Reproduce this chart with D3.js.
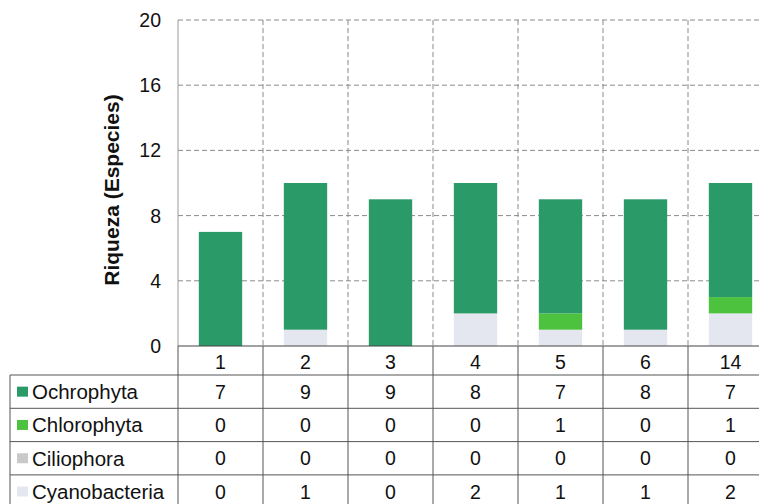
<!DOCTYPE html>
<html><head><meta charset="utf-8">
<script src="https://cdn.jsdelivr.net/npm/d3@7"></script>
<style>body{margin:0;background:#fff}svg{display:block;font-family:"Liberation Sans",Arial,sans-serif}</style>
</head><body><svg id="c" width="759" height="504"></svg>
<script>
const categories = ["1","2","3","4","5","6","14"];
const seriesNames = ["Ochrophyta","Chlorophyta","Ciliophora","Cyanobacteria"];
const ochrophyta = [7,9,9,8,7,8,7];
const chlorophyta = [0,0,0,0,1,0,1];
const ciliophora = [0,0,0,0,0,0,0];
const cyanobacteria = [0,1,0,2,1,1,2];
const yTicks = [0,4,8,12,16,20];
const colors = {Ochrophyta:"#2a9a68",Chlorophyta:"#4cc23e",Ciliophora:"#c9c9c9",Cyanobacteria:"#e4e7ef"};
const values = {Ochrophyta:ochrophyta,Chlorophyta:chlorophyta,Ciliophora:ciliophora,Cyanobacteria:cyanobacteria};

const svg = d3.select("#c");
const pLeft = 178, pRight = 773, pTop = 20, pBottom = 346;
const x = d3.scaleBand().domain(categories).range([pLeft,pRight]).padding(0);
const y = d3.scaleLinear().domain([0,20]).range([pBottom,pTop]);

svg.append("g").selectAll("line").data(yTicks.filter(d=>d>0)).join("line")
  .attr("x1",pLeft).attr("x2",pRight).attr("y1",d=>y(d)).attr("y2",d=>y(d))
  .attr("stroke","#8a8a8a").attr("stroke-dasharray","5,3").attr("stroke-width",1);
svg.append("g").selectAll("line").data(categories.slice(1)).join("line")
  .attr("x1",d=>x(d)).attr("x2",d=>x(d)).attr("y1",pTop).attr("y2",pBottom)
  .attr("stroke","#8a8a8a").attr("stroke-dasharray","5,3").attr("stroke-width",1);

const stackOrder = ["Cyanobacteria","Ciliophora","Chlorophyta","Ochrophyta"];
const rows = categories.map((c,i)=>{const o={cat:c};seriesNames.forEach(s=>o[s]=values[s][i]);return o;});
const stacked = d3.stack().keys(stackOrder)(rows);
const bw = x.bandwidth()*0.51;
svg.append("g").selectAll("g").data(stacked).join("g").attr("fill",d=>colors[d.key])
  .selectAll("rect").data(d=>d).join("rect")
  .attr("x",d=>x(d.data.cat)+(x.bandwidth()-bw)/2).attr("width",bw)
  .attr("y",d=>y(d[1])).attr("height",d=>y(d[0])-y(d[1]));

svg.append("line").attr("x1",pLeft).attr("x2",pLeft).attr("y1",pTop).attr("y2",pBottom).attr("stroke","#9a9a9a");
svg.append("g").selectAll("text").data(yTicks).join("text")
  .attr("x",161).attr("y",d=>y(d)).attr("dy","0.36em").attr("text-anchor","end")
  .attr("font-size",19.5).attr("fill","#111").text(d=>d);
svg.append("text").attr("transform",`translate(111,${(pTop+pBottom)/2+7}) rotate(-90)`)
  .attr("text-anchor","middle").attr("dy","0.36em").attr("font-size",21).attr("font-weight","bold").attr("fill","#111")
  .text("Riqueza (Especies)");

const tableTop = 375, rowH = 33.3, tableLeft = 10;
const lineColor = "#555";
svg.append("g").selectAll("text").data(categories).join("text")
  .attr("x",d=>x(d)+x.bandwidth()/2).attr("y",(pBottom+tableTop)/2+1).attr("dy","0.36em")
  .attr("text-anchor","middle").attr("font-size",19.5).attr("fill","#111").text(d=>d);
svg.append("line").attr("x1",pLeft).attr("x2",pRight).attr("y1",pBottom).attr("y2",pBottom).attr("stroke","#444").attr("stroke-width",1.2);
svg.append("g").selectAll("line").data(d3.range(seriesNames.length+1)).join("line")
  .attr("x1",tableLeft).attr("x2",pRight).attr("y1",i=>tableTop+i*rowH).attr("y2",i=>tableTop+i*rowH)
  .attr("stroke",lineColor).attr("stroke-width",1);
svg.append("line").attr("x1",tableLeft).attr("x2",tableLeft).attr("y1",tableTop).attr("y2",tableTop+rowH*4).attr("stroke",lineColor);
svg.append("g").selectAll("line").data(categories.concat(["end"])).join("line")
  .attr("x1",(d,i)=>i<categories.length?x(d):pRight).attr("x2",(d,i)=>i<categories.length?x(d):pRight)
  .attr("y1",pBottom).attr("y2",tableTop+rowH*4).attr("stroke",lineColor);
seriesNames.forEach((s,ri)=>{
  const cy = tableTop + ri*rowH + rowH/2;
  svg.append("rect").attr("x",17).attr("y",cy-5).attr("width",11).attr("height",10).attr("fill",colors[s]);
  svg.append("text").attr("x",32).attr("y",cy).attr("dy","0.36em").attr("font-size",20.5).attr("fill","#111").text(s);
  svg.append("g").selectAll("text").data(values[s]).join("text")
    .attr("x",(d,i)=>x(categories[i])+x.bandwidth()/2).attr("y",cy).attr("dy","0.36em")
    .attr("text-anchor","middle").attr("font-size",19.5).attr("fill","#111").text(d=>d);
});
</script></body></html>
